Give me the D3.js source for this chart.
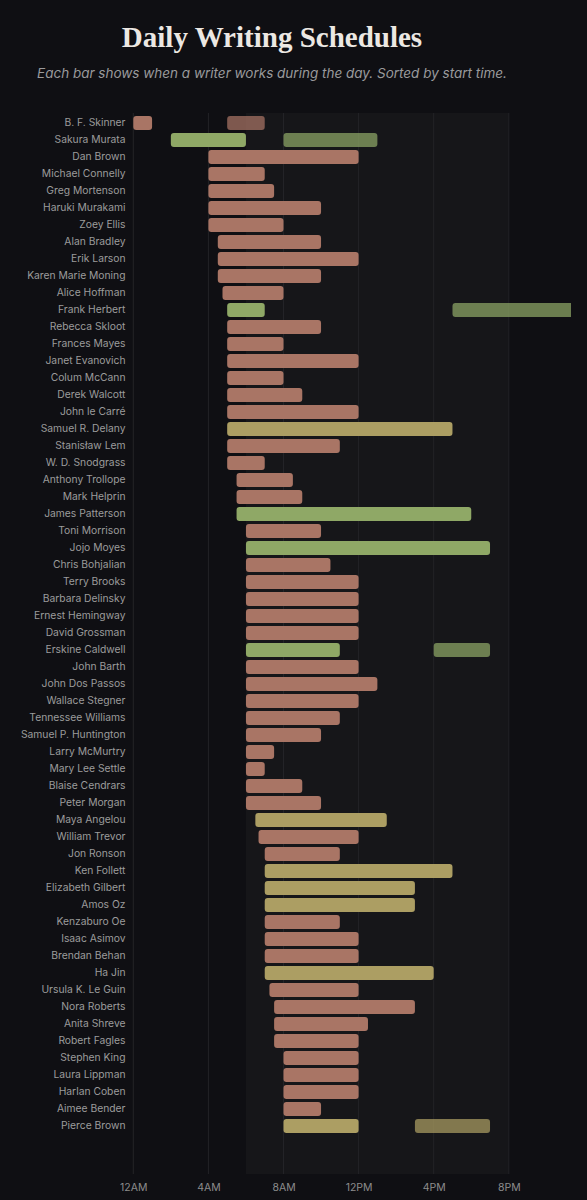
<!DOCTYPE html>
<html>
<head>
<meta charset="utf-8">
<script src="https://cdn.jsdelivr.net/npm/d3@7"></script>
<style>
  html, body { margin: 0; padding: 0; background: #0f0f13; }
  svg { display: block; }
</style>
</head>
<body>
<svg id="chart" width="587" height="1200"></svg>
<script>
// ---- Data (hours of day, 0 = midnight) ----
const writers = [
  "B. F. Skinner","Sakura Murata","Dan Brown","Michael Connelly","Greg Mortenson",
  "Haruki Murakami","Zoey Ellis","Alan Bradley","Erik Larson","Karen Marie Moning",
  "Alice Hoffman","Frank Herbert","Rebecca Skloot","Frances Mayes","Janet Evanovich",
  "Colum McCann","Derek Walcott","John le Carré","Samuel R. Delany","Stanisław Lem",
  "W. D. Snodgrass","Anthony Trollope","Mark Helprin","James Patterson","Toni Morrison",
  "Jojo Moyes","Chris Bohjalian","Terry Brooks","Barbara Delinsky","Ernest Hemingway",
  "David Grossman","Erskine Caldwell","John Barth","John Dos Passos","Wallace Stegner",
  "Tennessee Williams","Samuel P. Huntington","Larry McMurtry","Mary Lee Settle","Blaise Cendrars",
  "Peter Morgan","Maya Angelou","William Trevor","Jon Ronson","Ken Follett",
  "Elizabeth Gilbert","Amos Oz","Kenzaburo Oe","Isaac Asimov","Brendan Behan",
  "Ha Jin","Ursula K. Le Guin","Nora Roberts","Anita Shreve","Robert Fagles",
  "Stephen King","Laura Lippman","Harlan Coben","Aimee Bender","Pierce Brown"
];
const start1 = [
  0,2,4,4,4, 4,4,4.5,4.5,4.5, 4.75,5,5,5,5, 5,5,5,5,5,
  5,5.5,5.5,5.5,6, 6,6,6,6,6, 6,6,6,6,6, 6,6,6,6,6,
  6,6.5,6.67,7,7, 7,7,7,7,7, 7,7.25,7.5,7.5,7.5, 8,8,8,8,8
];
const end1 = [
  1,6,12,7,7.5, 10,8,10,12,10, 8,7,10,8,12, 8,9,12,17,11,
  7,8.5,9,18,10, 19,10.5,12,12,12, 12,11,12,13,12, 11,10,7.5,7,9,
  10,13.5,12,11,17, 15,15,11,12,12, 16,12,15,12.5,12, 12,12,12,10,12
];
// second work session (null when none)
const start2 = writers.map(() => null);
const end2 = writers.map(() => null);
start2[0] = 5;  end2[0] = 7;    // B. F. Skinner
start2[1] = 8;  end2[1] = 13;   // Sakura Murata
start2[11] = 17; end2[11] = 24; // Frank Herbert
start2[31] = 16; end2[31] = 19; // Erskine Caldwell
start2[59] = 15; end2[59] = 19; // Pierce Brown

// colour group per writer: s = salmon, g = green, y = yellow
const groups = writers.map(() => "s");
[1, 11, 23, 25, 31].forEach(i => groups[i] = "g");
[18, 41, 44, 45, 46, 50, 59].forEach(i => groups[i] = "y");

const tickHours = [0, 4, 8, 12, 16, 20];
const tickLabels = ["12AM", "4AM", "8AM", "12PM", "4PM", "8PM"];

// ---- Drawing ----
const svg = d3.select("#chart");
const colors = { s: "#a97565", g: "#8fa866", y: "#ac9e63" };

const x = d3.scaleLinear().domain([0, 24]).range([133.3, 583.9]);
const y = d3.scaleBand().domain(writers).range([114.5, 1134.5]).paddingInner(0.18).paddingOuter(0.09);

const plotTop = 113, plotBottom = 1174, clipRight = 571;

svg.append("defs").append("clipPath").attr("id", "clip")
  .append("rect").attr("x", 0).attr("y", 0).attr("width", clipRight).attr("height", 1200);

// daytime shading 6AM–8PM
svg.append("rect")
  .attr("x", x(6)).attr("y", plotTop)
  .attr("width", x(20) - x(6)).attr("height", plotBottom - plotTop)
  .attr("fill", "#161619");

// gridlines
svg.append("g").selectAll("line").data(tickHours).join("line")
  .attr("x1", d => x(d)).attr("x2", d => x(d))
  .attr("y1", plotTop).attr("y2", plotBottom)
  .attr("stroke", "#232327").attr("stroke-width", 1);

// x axis
const xAxis = d3.axisBottom(x).tickValues(tickHours)
  .tickFormat((d, i) => tickLabels[i]).tickSize(0).tickPadding(0);
const ax = svg.append("g").attr("transform", `translate(0,${1184})`).call(xAxis);
ax.select(".domain").remove();
ax.selectAll("text")
  .attr("fill", "#8c8c8c").attr("font-size", "10.5px")
  .attr("font-family", "Inter, 'DejaVu Sans', sans-serif");

// y labels
const yAxis = d3.axisLeft(y).tickSize(0).tickPadding(0);
const ay = svg.append("g").attr("transform", `translate(125.5,0)`).call(yAxis);
ay.select(".domain").remove();
ay.selectAll("text")
  .attr("fill", "#9c9c9c").attr("font-size", "10.3px")
  .attr("font-family", "Inter, 'DejaVu Sans', sans-serif");

// bars
const segs = [];
writers.forEach((w, i) => {
  segs.push({ w, s: start1[i], e: end1[i], g: groups[i], second: false });
  if (start2[i] !== null) segs.push({ w, s: start2[i], e: end2[i], g: groups[i], second: true });
});

svg.append("g").attr("clip-path", "url(#clip)")
  .selectAll("rect").data(segs).join("rect")
  .attr("x", d => x(d.s))
  .attr("y", d => y(d.w))
  .attr("width", d => x(d.e) - x(d.s))
  .attr("height", y.bandwidth())
  .attr("rx", 3).attr("ry", 3)
  .attr("fill", d => colors[d.g])
  .attr("fill-opacity", d => d.second ? 0.72 : 1);

// title & subtitle
svg.append("text")
  .attr("x", 272).attr("y", 47)
  .attr("text-anchor", "middle")
  .attr("font-family", "'Liberation Serif', 'DejaVu Serif', serif")
  .attr("font-weight", "bold").attr("font-size", "29px")
  .attr("fill", "#ece8e3")
  .text("Daily Writing Schedules");

svg.append("text")
  .attr("x", 272).attr("y", 78)
  .attr("text-anchor", "middle")
  .attr("font-family", "Inter, 'Open Sans', sans-serif")
  .attr("font-style", "italic").attr("font-size", "13.5px")
  .attr("fill", "#9a9a9c")
  .text("Each bar shows when a writer works during the day. Sorted by start time.");
</script>
</body>
</html>
